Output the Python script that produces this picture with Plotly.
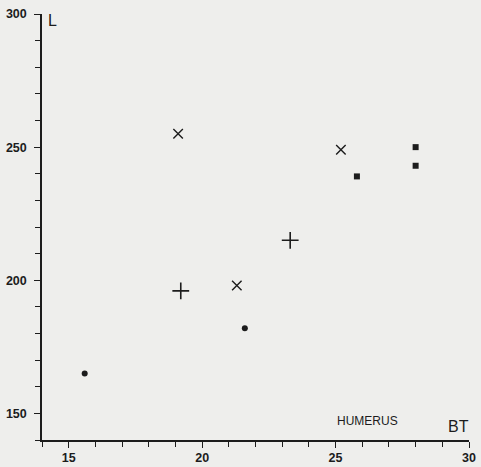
import plotly.graph_objects as go

# data
dot_bt = [15.6, 21.6]
dot_l = [165, 182]
x_bt = [19.1, 21.3, 25.2]
x_l = [255, 198, 249]
plus_bt = [19.2, 23.3]
plus_l = [196, 215]
sq_bt = [25.8, 28.0, 28.0]
sq_l = [239, 250, 243]

x_ticks = [15, 20, 25, 30]
y_ticks = [150, 200, 250, 300]

ink = "#1c1c1c"
fig = go.Figure()
fig.add_trace(go.Scatter(x=dot_bt, y=dot_l, mode="markers",
                         marker=dict(symbol="circle", size=6, color=ink)))
fig.add_trace(go.Scatter(x=x_bt, y=x_l, mode="markers",
                         marker=dict(symbol="x-thin", size=9.5, line=dict(color=ink, width=1.4))))
fig.add_trace(go.Scatter(x=plus_bt, y=plus_l, mode="markers",
                         marker=dict(symbol="cross-thin", size=12, line=dict(color=ink, width=1.6))))
fig.add_trace(go.Scatter(x=sq_bt, y=sq_l, mode="markers",
                         marker=dict(symbol="square", size=6, color=ink)))

axis_common = dict(showgrid=False, zeroline=False, showline=True, linecolor=ink, linewidth=1.5,
                   ticks="outside", ticklen=6, tickwidth=1.3, tickcolor=ink, automargin=False,
                   tickfont=dict(family="Liberation Sans, Arial", size=12.5, color=ink, weight=600))
fig.update_xaxes(range=[14, 30], tickvals=x_ticks, ticktext=[str(v) for v in x_ticks],
                 ticklabelstandoff=-1,
                 minor=dict(dtick=1, tick0=14, ticks="outside", ticklen=5, tickwidth=1.1, tickcolor=ink, showgrid=False),
                 **axis_common)
fig.update_yaxes(range=[140, 300], tickvals=y_ticks, ticktext=[str(v) for v in y_ticks],
                 ticklabelstandoff=5,
                 minor=dict(dtick=10, tick0=140, ticks="outside", ticklen=5, tickwidth=1.1, tickcolor=ink, showgrid=False),
                 **axis_common)

fig.add_annotation(text="L", x=0, xref="paper", xshift=4, y=300, yref="y", yshift=-6,
                   showarrow=False, xanchor="left", yanchor="middle",
                   font=dict(family="Liberation Sans, Arial", size=16, color=ink))
fig.add_annotation(text="BT", x=30, xref="x", y=0, yref="paper", xshift=2, yshift=3,
                   showarrow=False, xanchor="right", yanchor="bottom",
                   font=dict(family="Liberation Sans, Arial", size=16, color=ink))
fig.add_annotation(text="HUMERUS", x=26.2, xref="x", y=0, yref="paper", yshift=10,
                   showarrow=False, xanchor="center", yanchor="bottom",
                   font=dict(family="Liberation Sans, Arial", size=12, color=ink))

fig.update_layout(width=481, height=467, showlegend=False,
                  margin=dict(l=42, r=12, t=14, b=27),
                  paper_bgcolor="#eeeeec", plot_bgcolor="#eeeeec")
# remove the page's default body margin so the figure fills the window exactly
fig.write_html("out.html", config={"displayModeBar": False},
               post_script="document.body.style.margin='0';document.body.style.background='#eeeeec';")
